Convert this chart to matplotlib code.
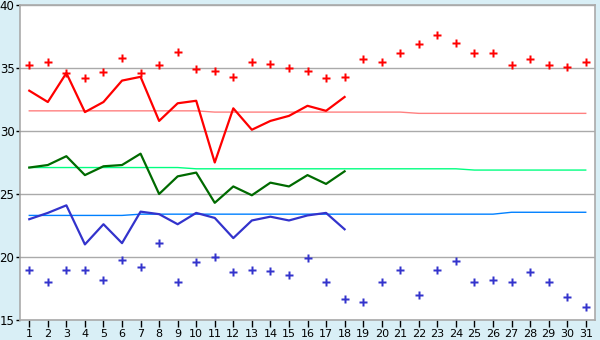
import numpy as np
import matplotlib
matplotlib.use("Agg")
import matplotlib.pyplot as plt

# дни месяца
days = np.arange(1, 32)
days_obs = np.arange(1, 19)

# максимальная температура (наблюдения, дни 1-18)
t_max = [33.2, 32.3, 34.6, 31.5, 32.3, 34.0, 34.3, 30.8, 32.2, 32.4,
         27.5, 31.8, 30.1, 30.8, 31.2, 32.0, 31.6, 32.7]
# средняя температура
t_mean = [27.1, 27.3, 28.0, 26.5, 27.2, 27.3, 28.2, 25.0, 26.4, 26.7,
          24.3, 25.6, 24.9, 25.9, 25.6, 26.5, 25.8, 26.8]
# минимальная температура
t_min = [23.0, 23.5, 24.1, 21.0, 22.6, 21.1, 23.6, 23.4, 22.6, 23.5,
         23.1, 21.5, 22.9, 23.2, 22.9, 23.3, 23.5, 22.2]

# рекорды
rec_max = [35.2, 35.5, 34.6, 34.2, 34.7, 35.8, 34.6, 35.2, 36.3, 34.9,
           34.8, 34.3, 35.5, 35.3, 35.0, 34.8, 34.2, 34.3, 35.7, 35.5,
           36.2, 36.9, 37.6, 37.0, 36.2, 36.2, 35.2, 35.7, 35.2, 35.1, 35.5]
rec_min = [19.0, 18.0, 19.0, 19.0, 18.2, 19.8, 19.2, 21.1, 18.0, 19.6,
           20.0, 18.8, 19.0, 18.9, 18.6, 19.9, 18.0, 16.7, 16.4, 18.0,
           19.0, 17.0, 19.0, 19.7, 18.0, 18.2, 18.0, 18.8, 18.0, 16.8, 16.0]

# нормы
norm_max = [31.6] * 10 + [31.5] * 11 + [31.4] * 10
norm_mean = [27.1] * 9 + [27.0] * 15 + [26.9] * 7
norm_min = [23.3] * 6 + [23.4] * 20 + [23.55] * 5

bg = '#d9eff6'
fig = plt.figure(figsize=(6, 3.4), dpi=100, facecolor=bg)
ax = fig.add_axes([20 / 600, 1 - 320 / 340, 575 / 600, 315 / 340])
ax.set_facecolor('white')

ax.plot(days, norm_max, color='#ff8080', lw=1.0, zorder=2)
ax.plot(days, norm_mean, color='#00ff80', lw=1.0, zorder=2)
ax.plot(days, norm_min, color='#0080ff', lw=1.0, zorder=2)

ax.plot(days_obs, t_max, color='#ff0000', lw=1.6, zorder=3)
ax.plot(days_obs, t_mean, color='#006a00', lw=1.6, zorder=3)
ax.plot(days_obs, t_min, color='#3333cc', lw=1.6, zorder=3)

ax.plot(days, rec_max, ls='none', marker='P', ms=5.5, color='#ff0000',
        mec='none', zorder=4)
ax.plot(days, rec_min, ls='none', marker='P', ms=5.5, color='#3333cc',
        mec='none', zorder=4)

ax.set_xlim(0.5, 31.5)
ax.set_ylim(15, 40)
ax.set_xticks(days)
ax.set_yticks([15, 20, 25, 30, 35, 40])
ax.grid(axis='y', color='#aaaaaa', lw=1.0, zorder=1)
for s in ax.spines.values():
    s.set_color('#aaaaaa')
    s.set_linewidth(1.2)
ax.tick_params(axis='x', length=5, width=1, color='black', labelsize=8,
               pad=1.5)
ax.tick_params(axis='y', length=3, width=1, color='black', labelsize=8.5,
               pad=1)

fig.savefig('out.png', dpi=100, facecolor=bg)
